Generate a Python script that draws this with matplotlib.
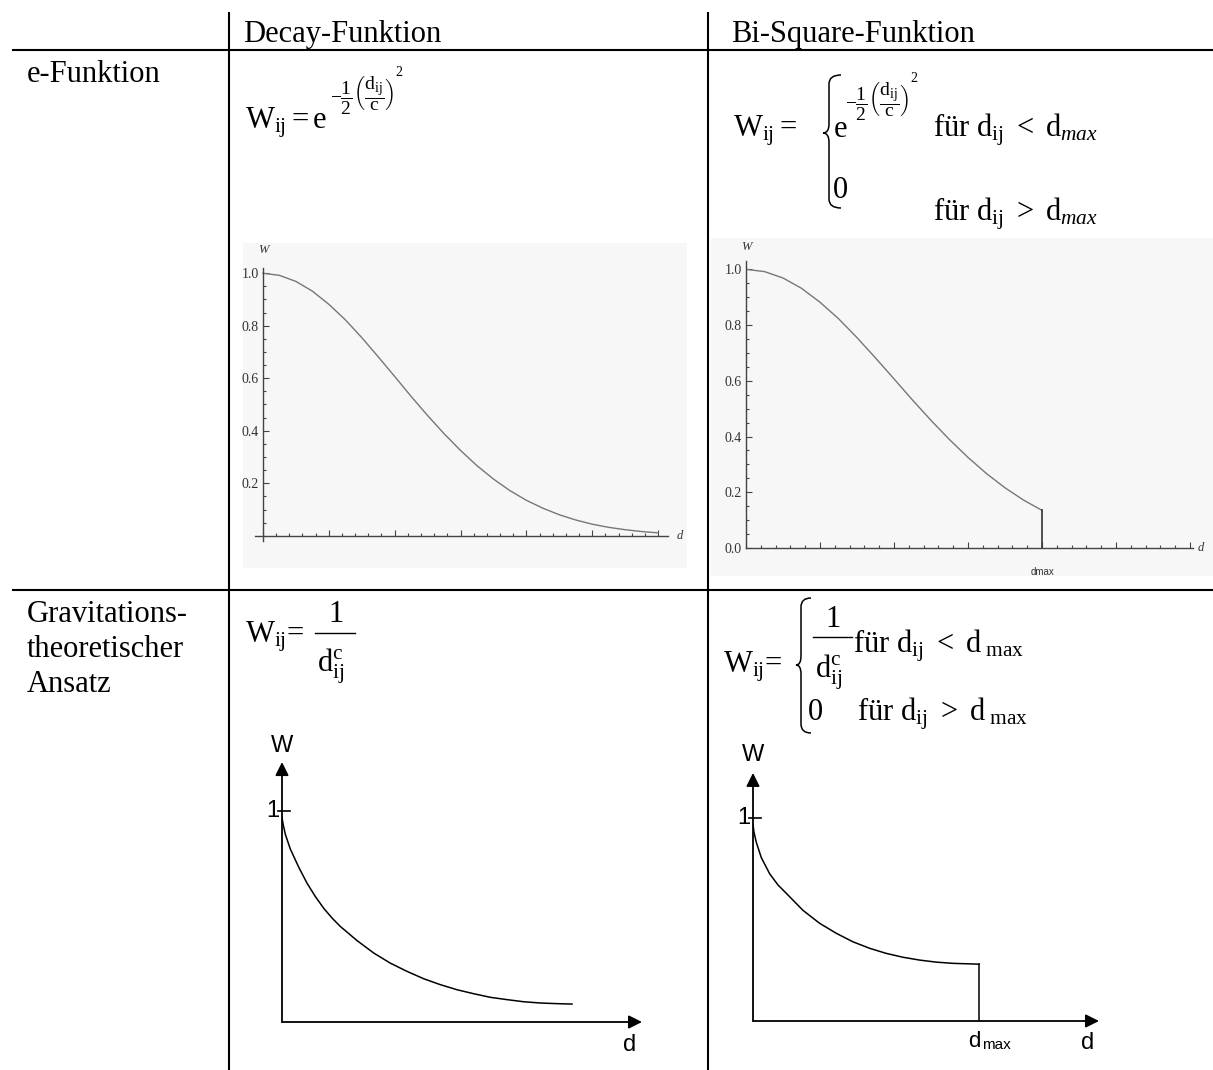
import matplotlib
matplotlib.use("Agg")
import matplotlib.pyplot as plt
from matplotlib.lines import Line2D
from matplotlib.patches import Rectangle, PathPatch
from matplotlib.path import Path
from matplotlib.ticker import MultipleLocator

plt.rcParams['font.family'] = ['Liberation Serif', 'DejaVu Serif']
plt.rcParams['mathtext.fontset'] = 'custom'
plt.rcParams['mathtext.rm'] = 'Liberation Serif'
plt.rcParams['mathtext.it'] = 'Liberation Serif:italic'
plt.rcParams['mathtext.bf'] = 'Liberation Serif:bold'

# %%
# data
col_titles = ["Decay-Funktion", "Bi-Square-Funktion"]
row_titles = ["e-Funktion", "Gravitations-\ntheoretischer\nAnsatz"]

# e-function (Mathematica style plots)
gauss_d = [0.0, 0.25, 0.5, 0.75, 1.0, 1.25, 1.5, 1.75, 2.0, 2.25, 2.5, 2.75, 3.0,
           3.25, 3.5, 3.75, 4.0, 4.25, 4.5, 4.75, 5.0, 5.25, 5.5, 5.75, 6.0]
gauss_w = [1.0, 0.992, 0.969, 0.932, 0.882, 0.823, 0.755, 0.682, 0.607, 0.531, 0.458,
           0.389, 0.325, 0.267, 0.216, 0.172, 0.135, 0.105, 0.080, 0.060, 0.044,
           0.032, 0.023, 0.016, 0.011]
bisq_dmax = 4.0
left_yticks = [0.2, 0.4, 0.6, 0.8, 1.0]
right_yticks = [0.0, 0.2, 0.4, 0.6, 0.8, 1.0]

# gravitation sketches
grav_d = [0.0, 0.01, 0.033, 0.083, 0.167, 0.25, 0.333, 0.417, 0.5, 0.583, 0.75, 0.917,
          1.083, 1.25, 1.417, 1.583, 1.75, 1.917, 2.083, 2.25, 2.417, 2.583, 2.75, 2.9]
grav_w = [0.97, 0.94, 0.89, 0.82, 0.734, 0.658, 0.595, 0.539, 0.493, 0.453, 0.386,
          0.327, 0.279, 0.240, 0.205, 0.177, 0.153, 0.134, 0.117, 0.106, 0.096, 0.090,
          0.087, 0.085]
grav_cut_d = [0.0, 0.01, 0.033, 0.083, 0.167, 0.25, 0.333, 0.5, 0.667, 0.833, 1.0,
              1.167, 1.333, 1.5, 1.667, 1.833, 2.0, 2.26]
grav_cut_w = [0.967, 0.93, 0.88, 0.805, 0.725, 0.67, 0.629, 0.545, 0.481, 0.432, 0.390,
              0.358, 0.333, 0.314, 0.300, 0.290, 0.284, 0.280]
grav_dmax = 2.26

W, H = 1213, 1070
fig = plt.figure(figsize=(W / 100, H / 100), dpi=100)
renderer = fig.canvas.get_renderer()


def fx(x):
    return x / W


def fy(y):
    return 1 - y / H


def box(x0, y0, x1, y1):
    return [fx(x0), fy(y1), (x1 - x0) / W, (y1 - y0) / H]


def hline(x0, x1, y, lw=1.5):
    fig.add_artist(Line2D([fx(x0), fx(x1)], [fy(y), fy(y)], transform=fig.transFigure,
                          color="black", lw=lw))


def vline(x, y0, y1, lw=1.5):
    fig.add_artist(Line2D([fx(x), fx(x)], [fy(y0), fy(y1)], transform=fig.transFigure,
                          color="black", lw=lw))


def brace(xe, xs, xl, yt, ym, yb, r=9):
    # thin curly brace like the equation editor draws it
    pts = [(xe, yt), (xs, yt), (xs, yt + r), (xs, ym - r), (xs, ym), (xl, ym),
           (xs, ym), (xs, ym + r), (xs, yb - r), (xs, yb), (xe, yb)]
    codes = [Path.MOVETO, Path.CURVE3, Path.CURVE3, Path.LINETO, Path.CURVE3, Path.CURVE3,
             Path.CURVE3, Path.CURVE3, Path.LINETO, Path.CURVE3, Path.CURVE3]
    p = Path([(fx(a), fy(b)) for a, b in pts], codes)
    fig.add_artist(PathPatch(p, transform=fig.transFigure, facecolor="none",
                             edgecolor="black", lw=1.1))


def exponent(x, yc):
    # -1/2 (d_ij / c) with the square put at the top right of the bracket
    t = fig.text(fx(x), fy(yc), expo, fontsize=14, va="center")
    bb = t.get_window_extent(renderer)
    fig.text((bb.x1 + 1) / W, (bb.y1 + 1) / H, "2", fontsize=10, va="center")


# %%
# table grid
vline(229, 13, 1070)
vline(708, 13, 1070)
hline(13, 1213, 50)
hline(13, 1213, 590)

fs = 22
fig.text(fx(243), fy(42), col_titles[0], fontsize=fs, va="baseline")
fig.text(fx(731), fy(42), col_titles[1], fontsize=fs, va="baseline")
fig.text(fx(27), fy(82), row_titles[0], fontsize=fs, va="baseline")
for i, line in enumerate(row_titles[1].split("\n")):
    fig.text(fx(27), fy(622 + 35 * i), line, fontsize=fs, va="baseline")

# formulas, row 1
expo = r"$-\dfrac{1}{2}\left(\dfrac{\mathrm{d}_{\mathrm{ij}}}{\mathrm{c}}\right)$"
fig.text(fx(245), fy(128), r"$\mathrm{W}_{\mathrm{ij}} = \mathrm{e}$", fontsize=fs, va="baseline")
exponent(330, 95)

fig.text(fx(733), fy(137), r"$\mathrm{W}_{\mathrm{ij}}=$", fontsize=fs, va="baseline")
brace(841, 829, 823, 75, 133, 208)
fig.text(fx(833), fy(137), r"$\mathrm{e}$", fontsize=fs, va="baseline")
exponent(845, 101)
fig.text(fx(933), fy(137), r"für $\mathrm{d}_{\mathrm{ij}}\ <\ \mathrm{d}_{\mathit{max}}$",
         fontsize=fs, va="baseline")
fig.text(fx(833), fy(198), "0", fontsize=fs, va="baseline")
fig.text(fx(933), fy(221), r"für $\mathrm{d}_{\mathrm{ij}}\ >\ \mathrm{d}_{\mathit{max}}$",
         fontsize=fs, va="baseline")

# formulas, row 2
fig.text(fx(245), fy(643), r"$\mathrm{W}_{\mathrm{ij}}$=", fontsize=fs, va="baseline")
fig.text(fx(336), fy(622), "1", fontsize=fs, va="baseline", ha="center")
hline(315, 355, 633, lw=1.0)
fig.text(fx(317), fy(672), r"$\mathrm{d}_{\mathrm{ij}}^{\mathrm{c}}$", fontsize=fs, va="baseline")

fig.text(fx(723), fy(672), r"$\mathrm{W}_{\mathrm{ij}}$=", fontsize=fs, va="baseline")
brace(811, 801, 796, 598, 665, 733)
fig.text(fx(833), fy(627), "1", fontsize=fs, va="baseline", ha="center")
hline(813, 852, 637, lw=1.0)
fig.text(fx(815), fy(677), r"$\mathrm{d}_{\mathrm{ij}}^{\mathrm{c}}$", fontsize=fs, va="baseline")
fig.text(fx(853), fy(652), r"für $\mathrm{d}_{\mathrm{ij}}\ <\ \mathrm{d}_{\ \mathrm{max}}$",
         fontsize=fs, va="baseline")
fig.text(fx(808), fy(720), "0", fontsize=fs, va="baseline")
fig.text(fx(857), fy(720), r"für $\mathrm{d}_{\mathrm{ij}}\ >\ \mathrm{d}_{\ \mathrm{max}}$",
         fontsize=fs, va="baseline")

# %%
# Mathematica style plots (row 1)
axis_c = "#444444"
curve_c = "#777777"


def math_axes(rect, xlim, ylim, yticks, bg):
    fig.add_artist(Rectangle((fx(bg[0]), fy(bg[3])), (bg[2] - bg[0]) / W, (bg[3] - bg[1]) / H,
                             transform=fig.transFigure, facecolor="#f7f7f7",
                             edgecolor="none", zorder=0))
    ax = fig.add_axes(rect)
    ax.set_facecolor("none")
    ax.set_xlim(*xlim)
    ax.set_ylim(*ylim)
    for s in ["top", "right"]:
        ax.spines[s].set_visible(False)
    ax.spines["left"].set_position(("data", 0))
    ax.spines["bottom"].set_position(("data", 0))
    for s in ["left", "bottom"]:
        ax.spines[s].set_color(axis_c)
        ax.spines[s].set_linewidth(1.0)
    ax.xaxis.set_major_locator(MultipleLocator(1))
    ax.xaxis.set_minor_locator(MultipleLocator(0.2))
    ax.set_yticks(yticks)
    ax.yaxis.set_minor_locator(MultipleLocator(0.05))
    ax.set_yticklabels(["%.1f" % v for v in yticks])
    ax.set_xticklabels([])
    ax.tick_params(which="both", direction="in", color=axis_c, labelsize=10,
                   labelcolor="#333333", width=0.8)
    ax.tick_params(which="major", length=4, pad=3)
    ax.tick_params(which="minor", length=2)
    return ax


axL = math_axes(box(255, 268, 668, 541), (-0.12, 6.15), (-0.02, 1.02), left_yticks,
                (243, 243, 687, 568))
axL.plot(gauss_d, gauss_w, color=curve_c, lw=1.0)
axL.text(0.0, 1.09, "W", style="italic", fontsize=9, ha="center", va="center", color="#333333")
axL.text(6.33, 0.0, "d", style="italic", fontsize=9, ha="center", va="center", color="#333333")

axR = math_axes(box(746, 261, 1193, 548), (0, 6.04), (0, 1.03), right_yticks,
                (711, 238, 1213, 576))
cut = gauss_d.index(bisq_dmax) + 1
axR.plot(gauss_d[:cut], gauss_w[:cut], color=curve_c, lw=1.0)
axR.plot([bisq_dmax, bisq_dmax], [gauss_w[cut - 1], 0], color="#333333", lw=1.2)
axR.text(0.0, 1.08, "W", style="italic", fontsize=9, ha="center", va="center", color="#333333")
axR.text(6.15, 0.0, "d", style="italic", fontsize=9, ha="center", va="center", color="#333333")
axR.text(bisq_dmax, -0.085, "dmax", family="Liberation Sans", fontsize=7, ha="center",
         va="center", color="#333333")

# %%
# hand-drawn sketches (row 2)
arrow = dict(arrowstyle="-|>", mutation_scale=20, lw=1.3, color="black",
             shrinkA=0, shrinkB=0)
sans = "Liberation Sans"


def sketch_axes(rect, xlim, ylim, xtip, ytip):
    ax = fig.add_axes(rect)
    ax.set_xlim(*xlim)
    ax.set_ylim(*ylim)
    ax.axis("off")
    ax.annotate("", xy=(xtip, 0), xytext=(0, 0), arrowprops=arrow, annotation_clip=False)
    ax.annotate("", xy=(0, ytip), xytext=(0, 0), arrowprops=arrow, annotation_clip=False)
    ax.plot([-0.04, 0.08], [1, 1], color="black", lw=1.2, clip_on=False)
    ax.text(-0.03, 1, "1", family=sans, fontsize=17, ha="right", va="center")
    return ax


axBL = sketch_axes(box(282, 750, 660, 1022), (0, 3.78), (0, 272 / 211), 3.6, 1.232)
axBL.plot(grav_d, grav_w, color="black", lw=1.1)
axBL.text(0, 1.31, "W", family=sans, fontsize=17, ha="center", va="center")
axBL.text(3.48, -0.11, "d", family=sans, fontsize=17, ha="center", va="center")

axBR = sketch_axes(box(753, 760, 1110, 1021), (0, 3.57), (0, 261 / 203), 3.46, 1.222)
axBR.plot(grav_cut_d, grav_cut_w, color="black", lw=1.1)
axBR.plot([grav_dmax, grav_dmax], [grav_cut_w[-1], 0], color="black", lw=1.1)
axBR.text(0, 1.31, "W", family=sans, fontsize=17, ha="center", va="center")
axBR.text(3.35, -0.108, "d", family=sans, fontsize=17, ha="center", va="center")
axBR.text(grav_dmax - 0.11, -0.10, "d", family=sans, fontsize=16, ha="left", va="center")
axBR.text(grav_dmax + 0.03, -0.12, "max", family=sans, fontsize=11, ha="left", va="center")

fig.savefig("out.png", dpi=100, facecolor="white")
